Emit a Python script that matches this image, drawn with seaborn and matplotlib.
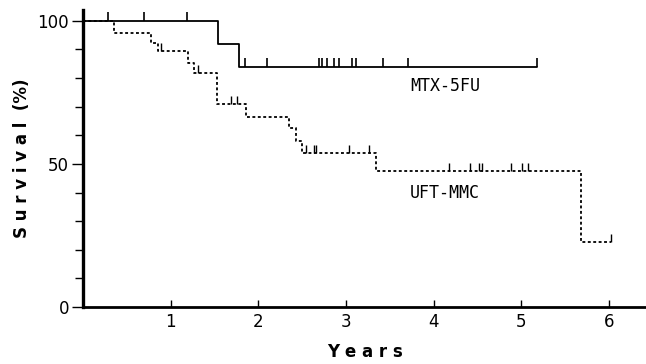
import numpy as np
import pandas as pd
import matplotlib
matplotlib.use("Agg")
import matplotlib.pyplot as plt
from matplotlib.path import Path
import seaborn as sns

# ---- data ----
mtx_times = [0.0, 1.54, 1.78, 5.18]
mtx_surv = [100.0, 92.0, 84.0, 84.0]
mtx_censor_t = [0.28, 0.69, 1.19, 1.85, 2.10, 2.69, 2.73, 2.78, 2.86, 2.92,
                3.07, 3.11, 3.42, 3.71, 5.18]
mtx_censor_s = [100, 100, 100, 84, 84, 84, 84, 84, 84, 84,
                84, 84, 84, 84, 84]

uft_times = [0.0, 0.35, 0.77, 0.86, 1.20, 1.26, 1.53, 1.86, 2.35, 2.43,
             2.50, 3.34, 5.68, 6.02]
uft_surv = [100.0, 95.8, 92.4, 89.5, 85.4, 81.9, 70.9, 66.3, 62.7, 58.0,
            53.7, 47.7, 22.6, 22.6]
uft_censor_t = [0.89, 1.31, 1.69, 1.76, 2.54, 2.63, 2.66, 3.03, 3.26,
                4.17, 4.41, 4.51, 4.55, 4.88, 5.01, 5.08, 6.02]
uft_censor_s = [89.5, 81.9, 70.9, 70.9, 53.7, 53.7, 53.7, 53.7, 53.7,
                47.7, 47.7, 47.7, 47.7, 47.7, 47.7, 47.7, 22.6]

y_major = [0, 50, 100]
y_minor = [10, 20, 30, 40, 60, 70, 80, 90]
x_ticks = [1, 2, 3, 4, 5, 6]

sns.set_theme(style="white")
plt.rcParams["font.family"] = ["DejaVu Sans"]
plt.rcParams["text.color"] = "black"
plt.rcParams["axes.labelcolor"] = "black"
plt.rcParams["xtick.color"] = "black"
plt.rcParams["ytick.color"] = "black"

fig = plt.figure(figsize=(6.46, 3.64), dpi=100)
ax = fig.add_axes([0.1285, 0.1566, 0.8715, 0.8159])

mtx_df = pd.DataFrame({"t": mtx_times, "s": mtx_surv})
uft_df = pd.DataFrame({"t": uft_times, "s": uft_surv})

sns.lineplot(data=mtx_df, x="t", y="s", ax=ax, drawstyle="steps-post",
             color="black", linewidth=1.3, estimator=None, sort=False)
sns.lineplot(data=uft_df, x="t", y="s", ax=ax, drawstyle="steps-post",
             color="black", linewidth=1.3, estimator=None, sort=False,
             dashes=False, linestyle=(0, (1.6, 1.4)))

up_tick = Path([(0, 0), (0, 1)], [Path.MOVETO, Path.LINETO])
sns.scatterplot(x=mtx_censor_t, y=mtx_censor_s, ax=ax, marker=up_tick,
                s=150, color="black", edgecolor="black", linewidth=1.2)
sns.scatterplot(x=uft_censor_t, y=uft_censor_s, ax=ax, marker=up_tick,
                s=120, color="black", edgecolor="black", linewidth=1.0)

ax.set_xlim(0, 6.42)
ax.set_ylim(0, 103.8)

ax.set_yticks(y_major)
ax.set_yticklabels([str(v) for v in y_major], fontsize=12)
ax.set_yticks(y_minor, minor=True)
ax.tick_params(axis="y", which="major", direction="out", length=8,
               width=1.0, color="black", left=True, pad=2)
ax.tick_params(axis="y", which="minor", direction="out", length=6,
               width=1.0, color="black", left=True)

ax.set_xticks(x_ticks)
ax.set_xticklabels([str(v) for v in x_ticks], fontsize=12)
ax.tick_params(axis="x", which="major", direction="in", length=5,
               width=1.0, color="black", bottom=True, pad=4)

for side in ["top", "right"]:
    ax.spines[side].set_visible(False)
ax.spines["left"].set_linewidth(2.4)
ax.spines["bottom"].set_linewidth(2.0)
ax.spines["left"].set_color("black")
ax.spines["bottom"].set_color("black")

ax.set_xlabel("Y e a r s", fontsize=12, fontweight="bold", labelpad=9)
ax.set_ylabel("S u r v i v a l  (%)", fontsize=12, fontweight="bold",
              labelpad=5)

ax.text(4.13, 77.3, "MTX-5FU", family="DejaVu Sans Mono", fontsize=12,
        ha="center", va="center")
ax.text(4.13, 40.0, "UFT-MMC", family="DejaVu Sans Mono", fontsize=12,
        ha="center", va="center")

ax.grid(False)
fig.savefig("out.png", dpi=100)
